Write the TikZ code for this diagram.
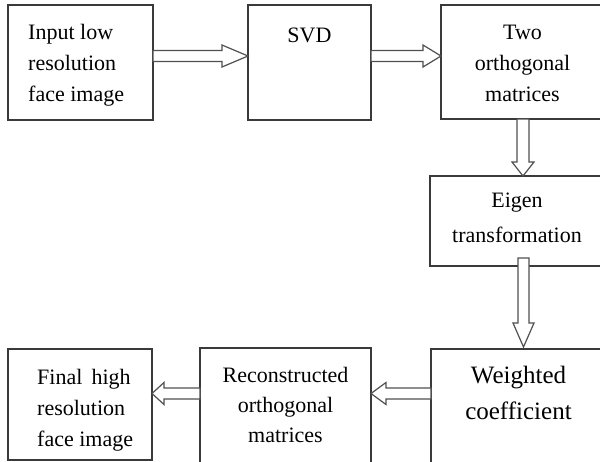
\documentclass[tikz,border=0pt]{standalone}
\usepackage{fontspec}
\setmainfont{Liberation Serif}
\usetikzlibrary{calc}
\definecolor{boxc}{HTML}{3A3A3A}
\definecolor{arrc}{HTML}{505050}
\begin{document}
\begin{tikzpicture}[x=1pt,y=-1pt,
  box/.style={draw=boxc, line width=1.4pt, inner sep=0pt, outer sep=0pt, fill=white},
  harrow/.style={draw=arrc, line width=1.2pt, fill=white, line join=miter},
  txt/.style={inner sep=0pt, anchor=base, text=black, font=\fontsize{22}{31}\selectfont}]
\useasboundingbox (0,0) rectangle (600,461);
\clip (0,0) rectangle (600,461);
% boxes
\node[box, minimum width=145pt, minimum height=115pt] (b1) at (80.5,62.5) {};
\node[box, minimum width=123pt, minimum height=115pt] (b2) at (309.5,62.5) {};
\node[box, minimum width=163pt, minimum height=114pt] (b3) at (522.5,62) {};
\node[box, minimum width=174pt, minimum height=90pt] (b4) at (517,221) {};
\node[box, minimum width=175pt, minimum height=121pt] (b5) at (518.5,409.5) {};
\node[box, minimum width=171pt, minimum height=122pt] (b6) at (285.5,409) {};
\node[box, minimum width=144pt, minimum height=111pt] (b7) at (80,404.5) {};
% texts (base anchor = baseline of the last line)
\node[txt, align=left, anchor=base west] (t1) at (28,101) {Input low\\resolution\\face image};
\node[txt] (t2) at (309.5,42) {SVD};
\node[txt, align=center] (t3) at (522.5,101) {Two\\orthogonal\\matrices};
\node[txt, align=center, font=\fontsize{22}{35}\selectfont] (t4) at (517,242) {Eigen\\transformation};
\node[txt, align=center, font=\fontsize{25}{36}\selectfont] (t5) at (518.5,419) {Weighted\\coefficient};
\node[txt, align=center, font=\fontsize{22}{30}\selectfont] (t6) at (285.5,442) {Reconstructed\\orthogonal\\matrices};
\node[txt, align=left, anchor=base west] (t7) at (37,446) {Final\, high\\resolution\\face image};
% arrows
\draw[harrow] let \p1=($(b1.east)+(0,-6.5)$), \p2=($(b2.west)+(0,-6.5)$) in
  (\x1,\y1+5.5pt) -- (\x2-26pt,\y1+5.5pt) -- (\x2-26pt,\y1+11pt) -- (\x2,\y1)
  -- (\x2-26pt,\y1-11pt) -- (\x2-26pt,\y1-5.5pt) -- (\x1,\y1-5.5pt) -- cycle;
\draw[harrow] let \p1=($(b2.east)+(0,-6.5)$), \p2=($(b3.west)+(0,-6.5)$) in
  (\x1,\y1+5.5pt) -- (\x2-18pt,\y1+5.5pt) -- (\x2-18pt,\y1+11pt) -- (\x2,\y1)
  -- (\x2-18pt,\y1-11pt) -- (\x2-18pt,\y1-5.5pt) -- (\x1,\y1-5.5pt) -- cycle;
\draw[harrow] let \p1=($(b3.south)+(0.5,0)$), \p2=($(b4.north)+(6,0)$) in
  (\x1-6pt,\y1) -- (\x1-6pt,\y2+14pt) -- (\x1-11pt,\y2+14pt) -- (\x1,\y2)
  -- (\x1+11pt,\y2+14pt) -- (\x1+6pt,\y2+14pt) -- (\x1+6pt,\y1) -- cycle;
\draw[harrow] let \p1=($(b4.south)+(6.5,-8)$), \p2=($(b5.north)+(5,-2)$) in
  (\x1-5.5pt,\y1) -- (\x1-5.5pt,\y2+24pt) -- (\x1-10.5pt,\y2+24pt) -- (\x1,\y2)
  -- (\x1+10.5pt,\y2+24pt) -- (\x1+5.5pt,\y2+24pt) -- (\x1+5.5pt,\y1) -- cycle;
\draw[harrow] let \p1=($(b5.west)+(0,-16)$), \p2=($(b6.east)+(0,-15.5)$) in
  (\x1,\y1+5.5pt) -- (\x2+15pt,\y1+5.5pt) -- (\x2+15pt,\y1+11pt) -- (\x2,\y1)
  -- (\x2+15pt,\y1-11pt) -- (\x2+15pt,\y1-5.5pt) -- (\x1,\y1-5.5pt) -- cycle;
\draw[harrow] let \p1=($(b6.west)+(0,-15.5)$), \p2=($(b7.east)+(0,-11)$) in
  (\x1,\y1+5.5pt) -- (\x2+12pt,\y1+5.5pt) -- (\x2+12pt,\y1+11pt) -- (\x2,\y1)
  -- (\x2+12pt,\y1-11pt) -- (\x2+12pt,\y1-5.5pt) -- (\x1,\y1-5.5pt) -- cycle;
\end{tikzpicture}
\end{document}
